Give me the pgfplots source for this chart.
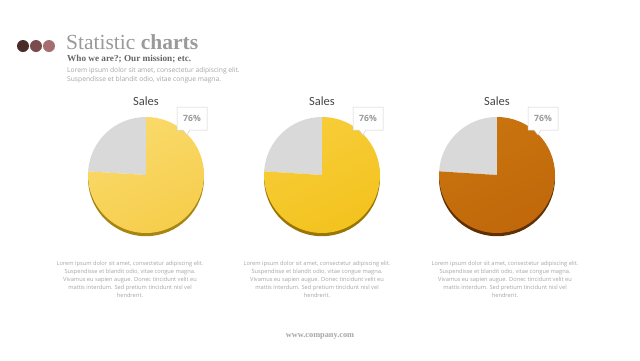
\documentclass[border=0pt]{standalone}
\usepackage{pgfplots}
\pgfplotsset{compat=1.18}
\usepackage{pgfplotstable}
\usepackage{fontspec}
\setmainfont{Carlito}
\newfontfamily\seriffont{Liberation Serif}
\newfontfamily\bodyfont{Open Sans}
\definecolor{pieA}{HTML}{F6CE4C}
\definecolor{pieAlight}{HTML}{FADA6C}
\definecolor{pieAshadow}{HTML}{A88412}
\definecolor{pieB}{HTML}{F3C31E}
\definecolor{pieBlight}{HTML}{F7CD3A}
\definecolor{pieBshadow}{HTML}{9A7505}
\definecolor{pieC}{HTML}{C0680B}
\definecolor{pieClight}{HTML}{C9740F}
\definecolor{pieCshadow}{HTML}{5E3004}
\definecolor{rest}{HTML}{D9D9D9}
\definecolor{dotA}{HTML}{4B2A2A}
\definecolor{dotB}{HTML}{7A4B4B}
\definecolor{dotC}{HTML}{A66E6E}
\definecolor{txtgray}{HTML}{A6A6A6}
\definecolor{titlegray}{HTML}{9A9A9A}
\pgfplotstableread{
label value
Sales 76
Other 24
}\dataA
\pgfplotstableread{
label value
Sales 76
Other 24
}\dataB
\pgfplotstableread{
label value
Sales 76
Other 24
}\dataC
% #1 center x, #2 table, #3 light, #4 dark, #5 shadow
\newcommand{\pie}[5]{%
  \pgfplotstablegetelem{0}{value}\of{#2}%
  \pgfmathsetmacro\pieval{\pgfplotsretval}%
  \pgfmathsetmacro\endang{90-3.6*\pieval}%
  \begin{axis}[at={(#1pt,-175pt)}, anchor=center, scale only axis,
      width=116pt, height=116pt, xmin=-1, xmax=1, ymin=-1, ymax=1,
      hide axis, clip=false]
    \fill[#5] (axis cs:0,-0.055) -- ++(90:58pt) arc[start angle=90, end angle=\endang, radius=58pt] -- cycle;
    \fill[rest] (axis cs:0,0) -- ++(90:58pt) arc[start angle=90, end angle=\endang+360, radius=58pt] -- cycle;
    \shade[top color=#3, bottom color=#4, shading angle=25] (axis cs:0,0) -- ++(90:58pt) arc[start angle=90, end angle=\endang, radius=58pt] -- cycle;
    \node[font=\fontsize{12.5}{14}\selectfont, text=black!72] at (axis cs:0,1.28) {Sales};
  \end{axis}
  \draw[black!18, fill=white, line width=0.5pt]
    (#1+31,-107) -- (#1+61,-107) -- (#1+61,-130) -- (#1+44,-130)
    -- (#1+41,-135) -- (#1+37,-130) -- (#1+31,-130) -- cycle;
  \node[font=\bodyfont\fontsize{8.6}{10}\selectfont\bfseries, text=black!40] at (#1+46,-118.5) {\pieval\%};
}
\begin{document}
\begin{tikzpicture}[x=1pt,y=1pt]
\path[fill=white] (0,0) rectangle (640,-360);
% dots
\fill[dotA] (23,-46) circle (6);
\fill[dotB] (36,-46) circle (6);
\fill[dotC] (49,-46) circle (6);
% title
\node[anchor=base west, inner sep=0, font=\seriffont\fontsize{21.5}{23}\selectfont, text=titlegray] at (66,-49) {Statistic \textbf{charts}};
\node[anchor=base west, inner sep=0, font=\seriffont\fontsize{9.2}{10}\selectfont\bfseries, text=black!60] at (67,-61) {Who we are?; Our mission; etc.};
\node[anchor=north west, inner sep=0, align=left, font=\bodyfont\fontsize{6.7}{9}\selectfont, text=txtgray] at (67,-67) {Lorem ipsum dolor sit amet, consectetur adipiscing elit.\\Suspendisse et blandit odio, vitae congue magna.};
% pies
\pie{146}{\dataA}{pieAlight}{pieA}{pieAshadow}
\pie{322}{\dataB}{pieBlight}{pieB}{pieBshadow}
\pie{497}{\dataC}{pieClight}{pieC}{pieCshadow}
% bottom texts
\foreach \cx in {130,317,505}{
  \node[anchor=north, inner sep=0, align=center, font=\bodyfont\fontsize{5.7}{8}\selectfont, text=txtgray] at (\cx,-261) {Lorem ipsum dolor sit amet, consectetur adipiscing elit.\\Suspendisse et blandit odio, vitae congue magna.\\Vivamus eu sapien augue. Donec tincidunt velit eu\\mattis interdum. Sed pretium tincidunt nisl vel\\hendrerit.};
}
\node[font=\seriffont\fontsize{8.3}{9}\selectfont\bfseries, text=txtgray] at (320,-336) {www.company.com};
\end{tikzpicture}
\end{document}
